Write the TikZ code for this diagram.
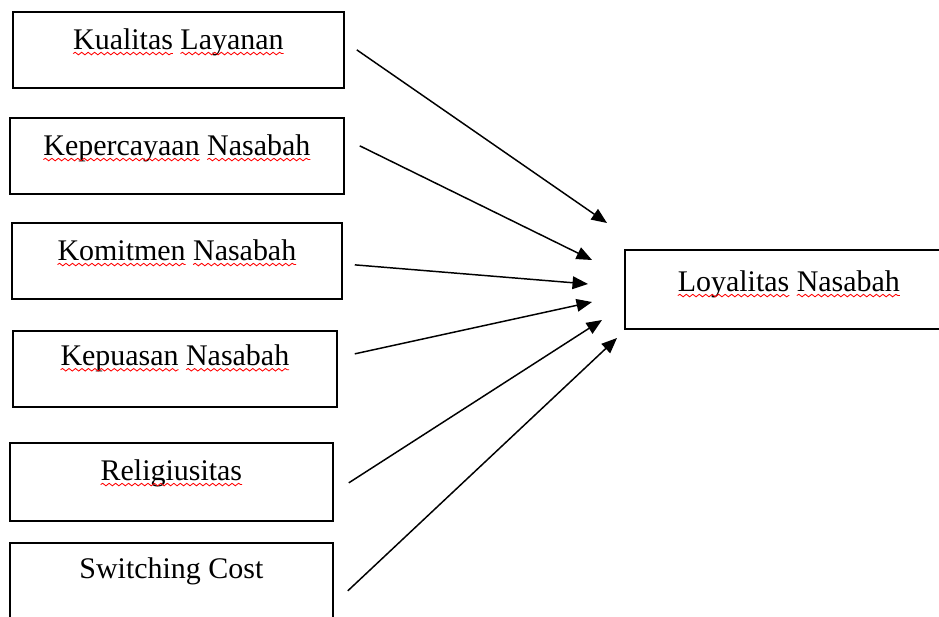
\documentclass[tikz,border=0pt]{standalone}
\usepackage{fontspec}
\setmainfont{Liberation Serif}
\usepackage{tikz}
\usetikzlibrary{arrows.meta}
\usetikzlibrary{decorations.pathmorphing}

\newsavebox\wavebox
\newcommand\salah[1]{\sbox\wavebox{#1}\usebox\wavebox\tikz[overlay,baseline=0pt]\draw[red,line width=.6pt,decorate,decoration={snake,amplitude=.9pt,segment length=4.6pt}] (-\wd\wavebox,-3.2pt) -- (0,-3.2pt);}

\tikzset{
  kotak/.style={draw,line width=1.2pt,anchor=north west,inner sep=0pt,
    text height=0.93cm,text depth=0.97cm,font=\fontsize{21.3}{25}\selectfont},
  panah/.style={-{Triangle[length=11pt,width=9pt]},line width=1.05pt}
}

\begin{document}
\begin{tikzpicture}[x=0.025cm,y=-0.025cm]
        \useasboundingbox (0,0) rectangle (939,617);

        \node[kotak,minimum width=8.275cm] (kualitas) at (12,11) {\salah{Kualitas} \salah{Layanan}};
        \node[kotak,minimum width=8.35cm] (kepercayaan) at (9,117) {\salah{Kepercayaan} \salah{Nasabah}};
        \node[kotak,minimum width=8.25cm] (komitmen) at (11,222) {\salah{Komitmen} \salah{Nasabah}};
        \node[kotak,minimum width=8.1cm,text height=0.86cm,text depth=1.04cm] (kepuasan) at (12,330) {\salah{Kepuasan} \salah{Nasabah}};
        \node[kotak,minimum width=8.075cm,text depth=1.02cm] (religi) at (9,442) {\salah{Religiusitas}};
        \node[kotak,minimum width=8.075cm,text height=0.88cm,text depth=1.12cm] (switching) at (9,542) {Switching Cost};

        \node[kotak,minimum width=8.2cm,text height=1.03cm,text depth=0.95cm] (loyalitas) at (624,249) {\salah{Loyalitas} \salah{Nasabah}};

        \coordinate (t1) at (607,223);
        \coordinate (t2) at (592,260);
        \coordinate (t3) at (588,284);
        \coordinate (t4) at (592,302);
        \coordinate (t5) at (602,320);
        \coordinate (t6) at (617,338);

        \draw[panah] ([shift={(12,0)}]kualitas.east) -- (t1);
        \draw[panah] ([shift={(15,-10)}]kepercayaan.east) -- (t2);
        \draw[panah] ([shift={(12,4)}]komitmen.east) -- (t3);
        \draw[panah] ([shift={(17,-15)}]kepuasan.east) -- (t4);
        \draw[panah] ([shift={(15,1)}]religi.east) -- (t5);
        \draw[panah] ([shift={(14,8)}]switching.east) -- (t6);
    \end{tikzpicture}
\end{document}
